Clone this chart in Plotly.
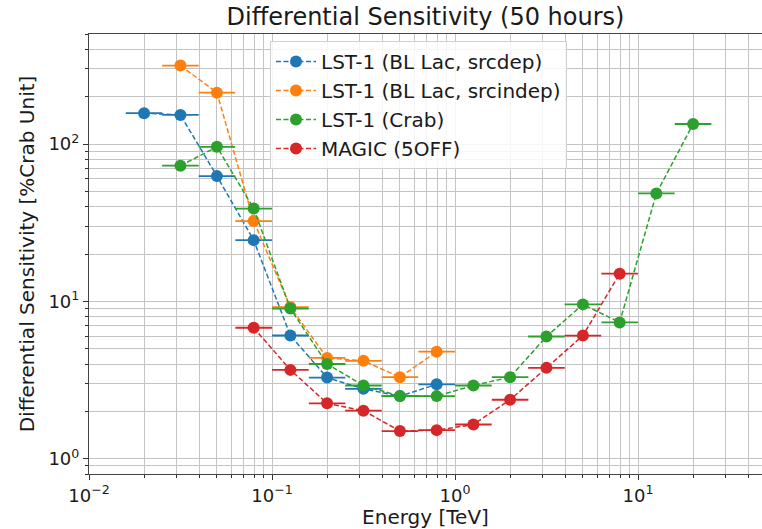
import numpy as np
import plotly.graph_objects as go

# Energy bin centres [TeV] (5 bins per decade)
energy = [0.02, 0.0316, 0.05, 0.0794, 0.126, 0.2, 0.316, 0.5, 0.794,
          1.26, 2.0, 3.16, 5.0, 7.94, 12.6, 20.0]
bin_half_width_dex = 0.1

srcdep_E = energy[0:9]
srcdep_S = [157, 153, 62.5, 24.5, 6.07, 3.28, 2.78, 2.5, 2.97]

srcindep_E = energy[1:9]
srcindep_S = [315, 212, 32.4, 9.2, 4.37, 4.19, 3.3, 4.79]

crab_E = energy[1:16]
crab_S = [72.8, 96, 38.9, 9.0, 4.0, 2.92, 2.5, 2.5, 2.92, 3.3, 5.98, 9.57, 7.35, 48.5, 134]

magic_E = energy[3:14]
magic_S = [6.8, 3.67, 2.25, 2.02, 1.5, 1.52, 1.65, 2.37, 3.78, 6.06, 15.0]

labels = ["LST-1 (BL Lac, srcdep)", "LST-1 (BL Lac, srcindep)", "LST-1 (Crab)", "MAGIC (5OFF)"]
colors = ["#1f77b4", "#ff7f0e", "#2ca02c", "#d62728"]
series = [(srcdep_E, srcdep_S), (srcindep_E, srcindep_S), (crab_E, crab_S), (magic_E, magic_S)]

x_ticks = [0.01, 0.1, 1, 10]
x_ticktext = ["10<sup>−2</sup>", "10<sup>−1</sup>", "10<sup>0</sup>", "10<sup>1</sup>"]
y_ticks = [1, 10, 100]
y_ticktext = ["10<sup>0</sup>", "10<sup>1</sup>", "10<sup>2</sup>"]

FONT = "DejaVu Sans"
GRID = "#c4c4c4"
TXT = "#1a1a1a"

fig = go.Figure()
for (E, S), lab, col in zip(series, labels, colors):
    E = np.array(E)
    up = E * (10 ** bin_half_width_dex) - E
    lo = E - E * (10 ** -bin_half_width_dex)
    fig.add_trace(go.Scatter(
        x=E, y=S, name=lab, mode="lines+markers",
        line=dict(color=col, width=1.5, dash="5px,2.5px"),
        marker=dict(color=col, size=12),
        error_x=dict(type="data", symmetric=False, array=up, arrayminus=lo,
                     color=col, thickness=1.8, width=0),
    ))

def minor_vals(lo, hi):
    v = []
    for p in range(lo, hi):
        for m in range(2, 10):
            v.append(m * 10.0 ** p)
    return v

fig.update_layout(
    width=762, height=529,
    margin=dict(l=89, r=0, t=34, b=55),
    paper_bgcolor="white", plot_bgcolor="white",
    font=dict(family=FONT, size=20, color=TXT),
    title=dict(text="Differential Sensitivity (50 hours)", x=(89 + 762) / 2 / 762,
               xanchor="center", y=1 - 17 / 529, yanchor="middle",
               font=dict(size=24, family=FONT, color=TXT)),
    showlegend=True,
    legend=dict(x=(270 - 89) / 673, y=1 - (41 - 34) / 440, xanchor="left", yanchor="top",
                bgcolor="rgba(255,255,255,0.85)", bordercolor="#d0d0d0", borderwidth=1,
                font=dict(size=20, family=FONT, color=TXT), tracegroupgap=0, itemwidth=40),
    xaxis=dict(type="log", range=[-2, -2 + 673 / 183],
               title=dict(text="Energy [TeV]", font=dict(size=20), standoff=4),
               tickvals=x_ticks, ticktext=x_ticktext, tickfont=dict(size=18),
               ticks="outside", ticklen=5, tickcolor="#333",
               showgrid=True, gridcolor=GRID, gridwidth=1,
               showline=True, linecolor="#444", linewidth=1.2, mirror=True,
               zeroline=False,
               minor=dict(tickvals=minor_vals(-2, 2), showgrid=True, gridcolor=GRID,
                          gridwidth=1, ticks="outside", ticklen=3, tickcolor="#333")),
    yaxis=dict(type="log", range=[np.log10(0.8), np.log10(500)],
               title=dict(text="Differential Sensitivity [%Crab Unit]", font=dict(size=20), standoff=8),
               tickvals=y_ticks, ticktext=y_ticktext, tickfont=dict(size=18),
               ticks="outside", ticklen=5, tickcolor="#333",
               showgrid=True, gridcolor=GRID, gridwidth=1,
               showline=True, linecolor="#444", linewidth=1.2, mirror=True,
               zeroline=False,
               minor=dict(tickvals=minor_vals(-1, 3), showgrid=True, gridcolor=GRID,
                          gridwidth=1, ticks="outside", ticklen=3, tickcolor="#333")),
)

fig.write_html("out.html")
